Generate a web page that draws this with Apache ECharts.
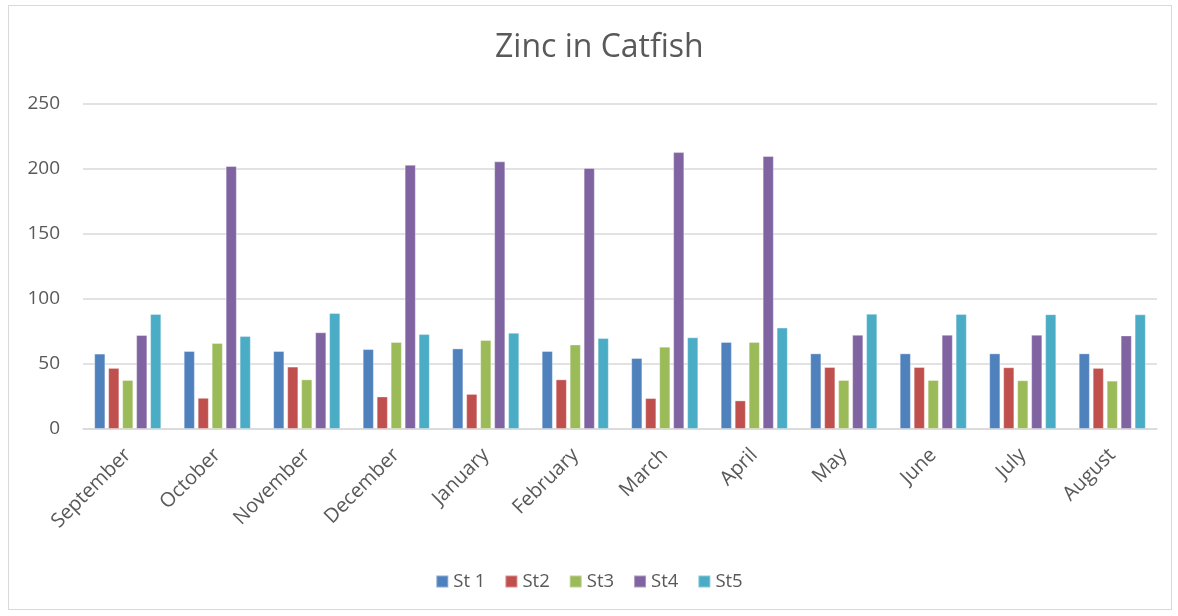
<!DOCTYPE html>
<html>
<head>
<meta charset="utf-8">
<script src="https://cdn.jsdelivr.net/npm/echarts@6/dist/echarts.min.js"></script>
<style>
html,body{margin:0;padding:0;background:#fff;}
#frame{position:absolute;left:8px;top:5px;width:1164px;height:605px;border:1px solid #d9d9d9;box-sizing:border-box;}
#chart{position:absolute;left:0;top:0;width:1178px;height:616px;}
</style>
</head>
<body>
<div id="frame"></div>
<div id="chart"></div>
<script>
const categories = ['September','October','November','December','January','February','March','April','May','June','July','August'];
const st1 = [58, 60, 60, 61.5, 62, 60, 54.6, 67, 58.2, 58.2, 58.2, 58.2];
const st2 = [47, 24, 48, 25, 27, 38.2, 23.8, 22, 47.7, 47.7, 47.5, 47];
const st3 = [37.7, 66.2, 38.2, 67, 68.5, 65, 63.3, 67, 37.7, 37.7, 37.5, 37.2];
const st4 = [72.3, 202.3, 74.4, 203.3, 205.9, 200.8, 213, 210, 72.5, 72.5, 72.5, 72];
const st5 = [88.5, 71.5, 89.2, 73, 74, 70, 70.5, 78, 88.7, 88.5, 88.3, 88.2];
const seriesNames = ['St 1','St2','St3','St4','St5'];
const seriesData = [st1, st2, st3, st4, st5];
const colors = ['#4F81BD','#C0504D','#9BBB59','#8064A2','#4BACC6'];
const yTicks = [0, 50, 100, 150, 200, 250];

const font = '"Open Sans", Lato, sans-serif';
const chart = echarts.init(document.getElementById('chart'));
chart.setOption({
  animation: false,
  color: colors,
  title: {
    text: 'Zinc in Catfish',
    left: 490,
    top: 27,
    textStyle: {fontFamily: font, fontSize: 32, fontWeight: 'normal', color: '#595959'}
  },
  legend: {
    bottom: 20,
    left: 'center',
    itemWidth: 12,
    itemHeight: 12,
    itemGap: 19,
    icon: 'rect',
    textStyle: {fontFamily: font, fontSize: 18.5, color: '#595959'},
    data: seriesNames
  },
  grid: {left: 83, right: 21, top: 104, bottom: 187, containLabel: false},
  xAxis: {
    type: 'category',
    data: categories,
    axisLine: {lineStyle: {color: '#d9d9d9', width: 1.5}},
    axisTick: {show: false},
    axisLabel: {rotate: 45, fontFamily: font, fontSize: 20, color: '#595959', margin: 23, interval: 0}
  },
  yAxis: {
    type: 'value',
    min: yTicks[0],
    max: yTicks[yTicks.length - 1],
    interval: 50,
    axisLine: {show: false},
    axisTick: {show: false},
    splitLine: {lineStyle: {color: '#d9d9d9', width: 1.5}},
    axisLabel: {fontFamily: font, fontSize: 19, color: '#595959', margin: 23}
  },
  series: seriesNames.map((n, i) => ({
    name: n,
    type: 'bar',
    data: seriesData[i],
    barGap: '25%',
    barCategoryGap: '25%',
    itemStyle: {color: colors[i], borderColor: 'rgba(255,255,255,0.35)', borderWidth: 1}
  }))
});
</script>
</body>
</html>
